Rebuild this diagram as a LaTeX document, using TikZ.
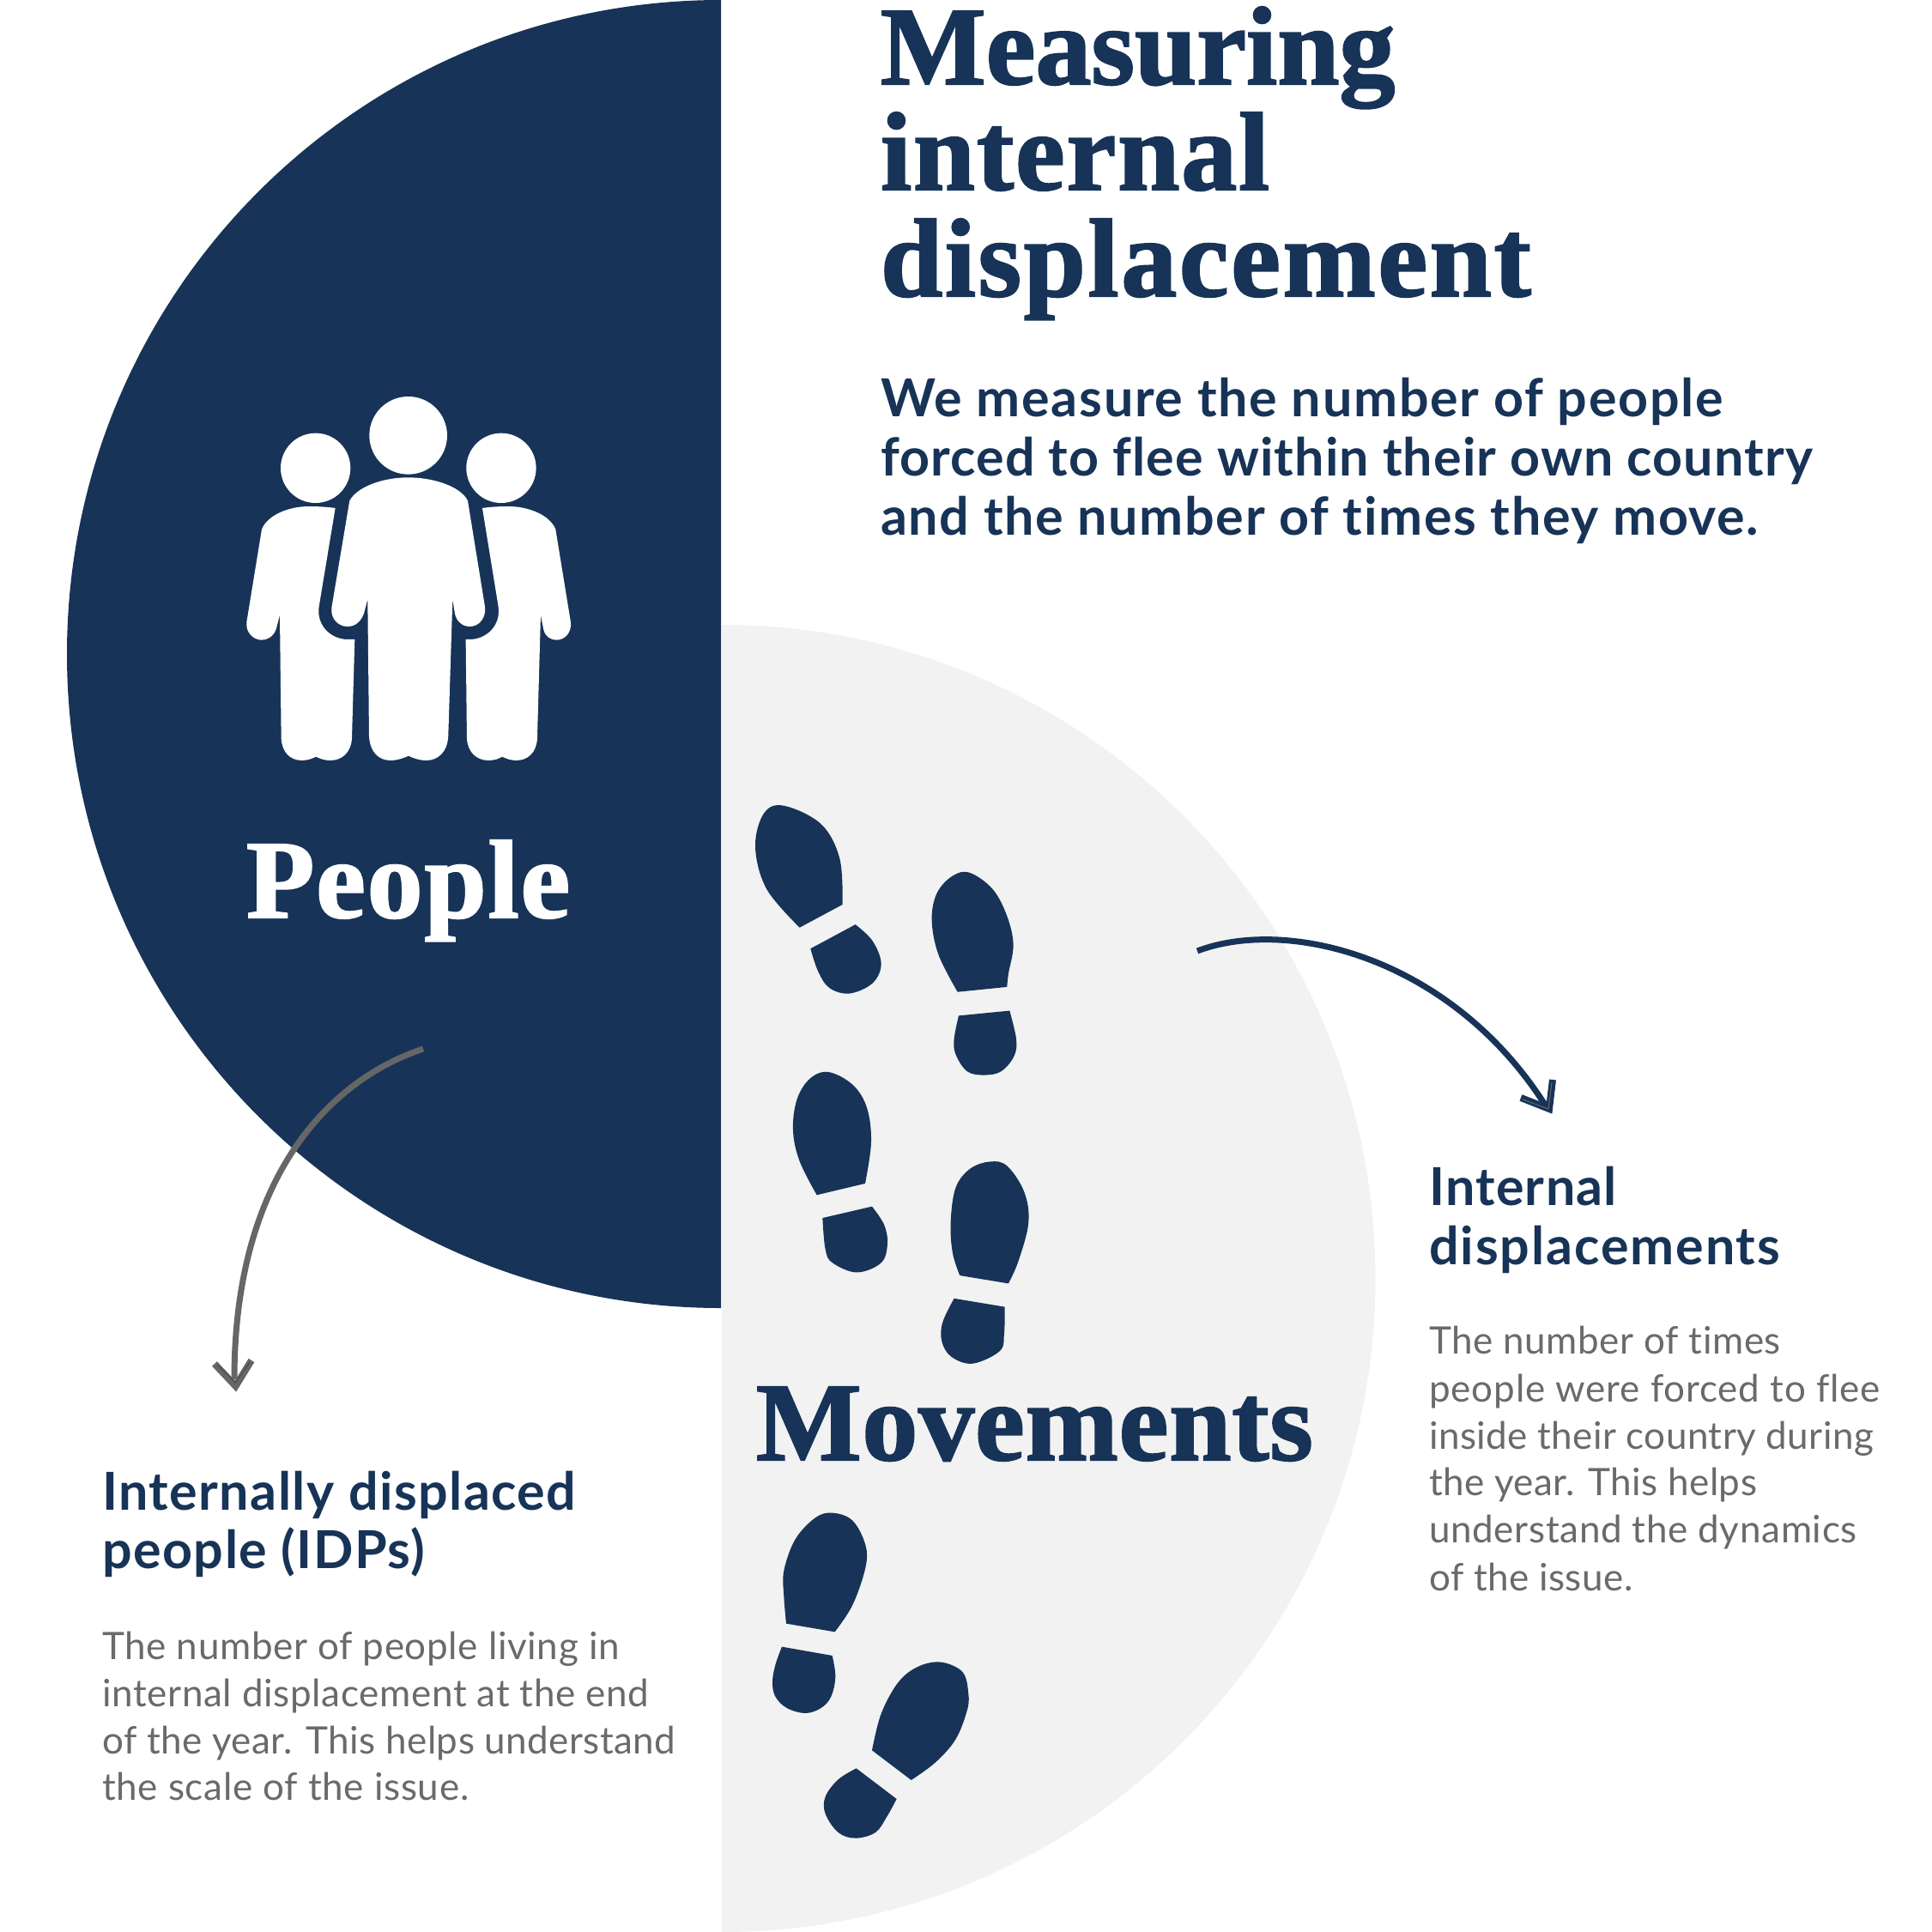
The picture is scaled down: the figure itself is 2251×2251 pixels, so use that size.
\documentclass[tikz,border=0pt]{standalone}
\usepackage{fontspec}
\newfontfamily\ttl{Liberation Serif}[BoldFeatures={FakeBold=1.6}]
\newfontfamily\subl{Lato}[LetterSpace=1.6,Ligatures={NoCommon}]
\newfontfamily\subh{Lato}[LetterSpace=2.4,Ligatures={NoCommon}]
\newfontfamily\bod{Lato}[LetterSpace=1,Ligatures={NoCommon}]
\definecolor{navy}{HTML}{173357}
\definecolor{pale}{HTML}{F2F2F2}
\definecolor{grayarrow}{HTML}{666666}
\definecolor{graytext}{HTML}{696A6C}
\tikzset{
 titletext/.style={anchor=base west,inner sep=0,outer sep=0,text=navy,font=\ttl\bfseries\fontsize{130}{130}\selectfont},
 leadtext/.style={anchor=base west,inner sep=0,text=navy,font=\subl\bfseries\fontsize{61}{61}\selectfont},
 headtext/.style={anchor=base west,inner sep=0,text=navy,font=\subh\bfseries\fontsize{61}{61}\selectfont},
 bodytext/.style={anchor=base west,inner sep=0,text=graytext,font=\bod\fontsize{44}{44}\selectfont},
 curve/.style={line width=7pt,line cap=butt},
 chevron/.style={line width=8pt,miter limit=10},
}
\begin{document}
\begin{tikzpicture}[x=1pt,y=-1pt]
\useasboundingbox (0,0) rectangle (2251,2251);
\fill[white] (0,0) rectangle (2251,2251);
\fill[navy] (840,0) arc[start angle=-90,end angle=-270,radius=762] -- cycle;
\fill[pale] (841,728) arc[start angle=-90,end angle=90,radius=761.5] -- cycle;
% people
\begin{scope}[shift={(270,440)},x=0.3333pt,y=-0.3333pt]
\fill[white] (617,202) circle[radius=136] (293,316) circle[radius=122] (942,316) circle[radius=122];
\fill[white] (412,430) .. controls (440,380) and (530,349) .. (617,349) .. controls (705,349) and (800,380) .. (825,430) -- (885,800) .. controls (890,840) and (865,870) .. (832,870) .. controls (805,870) and (785,850) .. (780,825) -- (772,775) -- (757,1250) .. controls (755,1310) and (720,1338) .. (680,1338) .. controls (655,1338) and (635,1330) .. (618,1322) .. controls (600,1330) and (580,1338) .. (555,1338) .. controls (515,1338) and (482,1310) .. (480,1250) -- (475,775) -- (462,825) .. controls (450,855) and (430,870) .. (405,870) .. controls (370,870) and (345,840) .. (349,805) -- cycle;
\fill[white] (362,456) -- (305,800) .. controls (295,870) and (350,915) .. (405,915) -- (430,915) -- (420,1260) .. controls (418,1310) and (385,1338) .. (345,1338) .. controls (320,1338) and (305,1330) .. (295,1325) .. controls (280,1332) and (265,1338) .. (245,1338) .. controls (205,1338) and (175,1310) .. (173,1260) -- (168,830) -- (155,880) .. controls (145,905) and (125,917) .. (105,917) .. controls (75,917) and (48,890) .. (52,855) -- (105,530) .. controls (125,480) and (200,450) .. (270,450) .. controls (300,450) and (335,452) .. (362,456) -- cycle;
\fill[white] (876,456) -- (932,800) .. controls (942,870) and (887,915) .. (832,915) -- (818,915) -- (822,1260) .. controls (824,1310) and (857,1338) .. (897,1338) .. controls (922,1338) and (937,1330) .. (945,1325) .. controls (960,1332) and (975,1338) .. (995,1338) .. controls (1035,1338) and (1066,1310) .. (1068,1260) -- (1080,830) -- (1090,880) .. controls (1095,905) and (1115,917) .. (1135,917) .. controls (1165,917) and (1189,890) .. (1185,855) -- (1132,530) .. controls (1112,480) and (1037,450) .. (967,450) .. controls (937,450) and (902,452) .. (876,456) -- cycle;
\end{scope}
% footprints
\begin{scope}[navy,shift={(860,920)},x=0.3333pt,y=-0.4464pt]
\fill plot[smooth,tension=.6] coordinates {(365,300) (355,180) (290,90) (160,42) (90,62) (60,150) (100,260) (215,360)} -- cycle;
\fill plot[smooth,tension=.6] coordinates {(410,352) (470,395) (500,455) (470,505) (390,532) (320,518) (280,475) (253,415)} -- cycle;
\fill plot[smooth,tension=.6] coordinates {(940,515) (945,480) (962,405) (940,330) (890,260) (810,217) (750,225) (695,270) (677,340) (700,430) (767,528)} -- cycle;
\fill plot[smooth,tension=.6] coordinates {(949,577) (972,650) (965,695) (920,735) (860,745) (800,735) (760,690) (755,650) (771,590)} -- cycle;
\fill plot[smooth,tension=.6] coordinates {(444,1028) (465,920) (450,830) (400,770) (315,737) (250,755) (205,810) (192,890) (215,970) (275,1058)} -- cycle;
\fill plot[smooth,tension=.6] coordinates {(468,1088) (510,1135) (522,1185) (500,1235) (415,1260) (330,1235) (305,1200) (295,1118)} -- cycle;
\fill plot[smooth,tension=.6] coordinates {(945,1289) (980,1230) (1015,1130) (1000,1050) (940,982) (880,971) (810,990) (760,1040) (743,1130) (750,1210) (775,1268)} -- cycle;
\fill plot[smooth,tension=.6] coordinates {(932,1350) (930,1420) (915,1465) (820,1498) (745,1480) (712,1440) (715,1390) (755,1328)} -- cycle;
\end{scope}
\begin{scope}[navy,shift={(880,1740)},x=0.3333pt,y=-0.3333pt]
\fill plot[smooth,tension=.6] coordinates {(278,484) (340,390) (385,260) (385,180) (340,95) (270,68) (210,85) (140,160) (100,270) (100,360) (108,455)} -- cycle;
\fill plot[smooth,tension=.6] coordinates {(269,567) (280,640) (265,710) (230,750) (175,768) (110,750) (70,710) (60,660) (70,600) (93,536)} -- cycle;
\fill plot[smooth,tension=.6] coordinates {(545,1002) (630,940) (700,860) (740,760) (745,700) (725,625) (650,590) (570,605) (500,660) (440,770) (408,898)} -- cycle;
\fill plot[smooth,tension=.6] coordinates {(353,961) (290,1000) (245,1060) (245,1120) (290,1185) (350,1205) (420,1185) (460,1130) (494,1068)} -- cycle;
\end{scope}
% connectors
\coordinate (gs) at (493,1222);
\coordinate (ge) at (273,1607);
\coordinate (gl) at (250,1589);
\coordinate (gt) at (274.5,1615);
\coordinate (gr) at (293,1585);
\draw[curve,grayarrow] (gs) .. controls (385,1258) and (273,1370) .. (ge);
\draw[chevron,grayarrow] (gl) -- (gt) -- (gr);
\draw[line width=1pt,black!70] (253,1590) -- (274.5,1611) -- (291,1587);
\coordinate (ns) at (1395,1108);
\coordinate (ne) at (1800,1287);
\coordinate (nl) at (1772,1279);
\coordinate (nt) at (1805,1292);
\coordinate (nr) at (1809,1258);
\draw[curve,navy] (ns) .. controls (1500,1068) and (1690,1115) .. (ne);
\draw[chevron,navy] (nl) -- (nt) -- (nr);
\draw[line width=1pt,black!60] (1774,1281) -- (1804,1292) -- (1808,1261);
% text
\node[titletext] (t1) at (1026,98) {\addfontfeature{LetterSpace=0}Measuring};
\node[titletext] (t2) at (1026,221) {\addfontfeature{LetterSpace=1.4}internal};
\node[titletext] (t3) at (1026,345) {\addfontfeature{LetterSpace=2}displacement};
\node[leadtext] (s1) at (1026,485) {\addfontfeature{LetterSpace=2.9}We measure the number of people};
\node[leadtext] (s2) at (1026,554) {\addfontfeature{LetterSpace=1.85}forced to flee within their own country};
\node[leadtext] (s3) at (1026,623) {\addfontfeature{LetterSpace=2.75}and the number of times they move.};
\node[titletext,text=white] (people) at (287,1069) {\addfontfeature{LetterSpace=1.4}People};
\node[titletext] (movements) at (881,1701) {\addfontfeature{LetterSpace=0.6}Movements};
\node[headtext] (h1) at (1665,1404) {\addfontfeature{LetterSpace=2.1}Internal};
\node[headtext] (h2) at (1665,1473) {\addfontfeature{LetterSpace=3.1}displacements};
\node[bodytext] (b1) at (1665,1577.5) {\addfontfeature{LetterSpace=1.3}The number of times};
\node[bodytext] (b2) at (1665,1633.5) {\addfontfeature{LetterSpace=1.9}people were forced to flee};
\node[bodytext] (b3) at (1665,1688.5) {\addfontfeature{LetterSpace=0.9}inside their country during};
\node[bodytext] (b4) at (1665,1742.5) {the year. This helps};
\node[bodytext] (b5) at (1665,1797.5) {\addfontfeature{LetterSpace=1.5}understand the dynamics};
\node[bodytext] (b6) at (1665,1853.5) {of the issue.};
\node[headtext] (h3) at (119,1759) {Internally displaced};
\node[headtext] (h4) at (119,1827) {people (IDPs)};
\node[bodytext] (c1) at (119,1933.5) {\addfontfeature{LetterSpace=1.5}The number of people living in};
\node[bodytext] (c2) at (119,1988.5) {\addfontfeature{LetterSpace=1.5}internal displacement at the end};
\node[bodytext] (c3) at (119,2043.5) {of the year. This helps understand};
\node[bodytext] (c4) at (119,2097.5) {\addfontfeature{LetterSpace=1.6}the scale of the issue.};
\end{tikzpicture}
\end{document}
